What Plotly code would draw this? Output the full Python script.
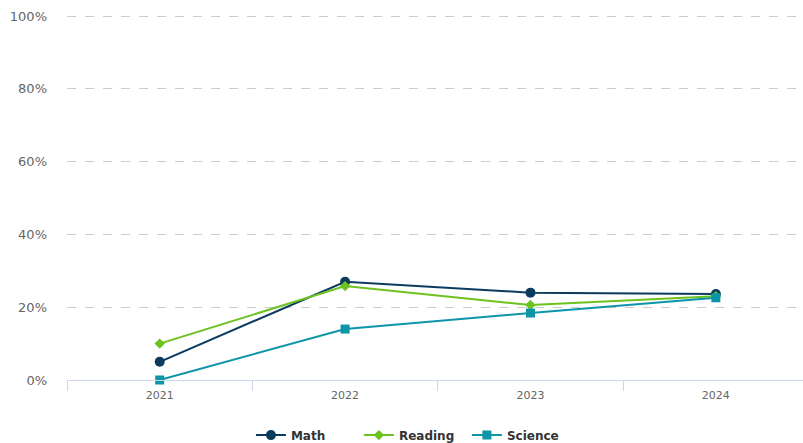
import plotly.graph_objects as go

years = ["2021", "2022", "2023", "2024"]
math_vals = [5, 27, 24, 23.6]
reading_vals = [10, 25.8, 20.6, 23]
science_vals = [0, 14, 18.4, 22.6]
y_ticks = [0, 20, 40, 60, 80, 100]
y_tick_labels = ["0%", "20%", "40%", "60%", "80%", "100%"]

series = [
    ("Math", math_vals, "#0c3b5e", "circle", 10),
    ("Reading", reading_vals, "#6cc21f", "diamond", 8),
    ("Science", science_vals, "#0c94a8", "square", 9),
]

fig = go.Figure()
for name, vals, color, symbol, size in series:
    fig.add_trace(go.Scatter(
        x=years, y=vals, name=name, mode="lines+markers",
        line=dict(color=color, width=2),
        marker=dict(symbol=symbol, size=size, color=color),
        cliponaxis=False,
    ))

fig.update_layout(
    width=803, height=443,
    margin=dict(l=67, r=0, t=15, b=63, autoexpand=False),
    paper_bgcolor="white", plot_bgcolor="white",
    font=dict(family="DejaVu Sans, Verdana, sans-serif", color="#666666"),
    showlegend=True,
    legend=dict(orientation="h", x=0.47, xanchor="center", y=-0.151, yanchor="middle",
                entrywidth=63, entrywidthmode="pixels",
                font=dict(size=12, color="#333333", weight="bold")),
    xaxis=dict(
        type="category", range=[-0.5, 3.47], automargin=False,
        showgrid=False, showline=True, linecolor="#ccd6eb", linewidth=1,
        ticks="outside", tickson="boundaries", ticklen=10, tickcolor="#ccd6eb",
        tickfont=dict(size=11, color="#666666"), ticklabelstandoff=5,
    ),
    yaxis=dict(
        range=[0, 100.3], tickvals=y_ticks, ticktext=y_tick_labels, automargin=False,
        showgrid=True, gridcolor="#cccccc", griddash="dash", gridwidth=1,
        zeroline=False, showline=False,
        tickfont=dict(size=13, color="#666666"), ticklabelstandoff=19,
    ),
)

fig.write_html(
    "out.html",
    config={"displayModeBar": False},
    post_script="document.body.style.margin='0';document.body.style.overflow='hidden';",
)
